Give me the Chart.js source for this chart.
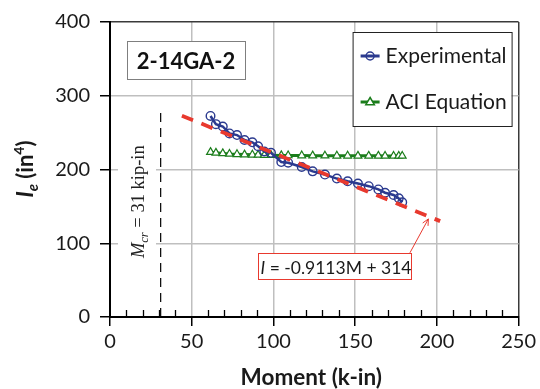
<!DOCTYPE html>
<html>
<head>
<meta charset="utf-8">
<script src="https://cdn.jsdelivr.net/npm/chart.js@4"></script>
<style>
  html, body { margin: 0; padding: 0; background: #fff; }
</style>
</head>
<body>
<canvas id="ieChart" width="540" height="389"></canvas>
<script>
// moments where Ie was measured / computed (k-in)
const moment = [61.5, 64.8, 69.0, 73.1, 77.7, 82.3, 87.1, 90.6, 94.4, 98.5, 104.8, 109.0,
                117.3, 124.0, 131.5, 138.8, 145.4, 151.7, 158.3, 164.2, 168.3, 173.5, 176.7, 178.8];
const experimental = [272.6, 261.5, 258.3, 248.9, 246.7, 240.0, 236.9, 231.5, 224.4, 222.6, 210.1, 209.2,
                      203.4, 197.5, 193.1, 187.7, 184.1, 181.0, 177.4, 173.0, 168.5, 165.4, 160.9, 155.5];
const aciEquation = [223.5, 222.6, 221.8, 221.1, 220.6, 220.2, 219.9, 219.7, 219.5, 219.3, 219.1, 219.0,
                     218.9, 218.8, 218.7, 218.6, 218.6, 218.5, 218.5, 218.5, 218.4, 218.4, 218.4, 218.4];
// linear fit I = -0.9113M + 314, end points
const fitMoment = [44, 202];
const fitI = [273, 130];
// cracking moment marker
const mcrMoment = [31, 31];
const mcrI = [0, 282];

const xTicks = [0, 50, 100, 150, 200, 250];
const yTicks = [0, 100, 200, 300, 400];

const blue = '#2b3a8f';
const green = '#1b7d1b';
const red = '#e8392e';

const pts = (xs, ys) => xs.map((v, i) => ({ x: v, y: ys[i] }));

// draws a run of text pieces [text, font, dy] starting at x
function runText(ctx, parts, x, y, center) {
  let total = 0;
  parts.forEach(p => { ctx.font = p[1]; total += ctx.measureText(p[0]).width; });
  let cx = center ? x - total / 2 : x;
  parts.forEach(p => {
    ctx.font = p[1];
    ctx.fillText(p[0], cx, y + (p[2] || 0));
    cx += ctx.measureText(p[0]).width;
  });
  return total;
}

function triangle(ctx, cx, cy, r) {
  ctx.beginPath();
  ctx.moveTo(cx, cy - r);
  ctx.lineTo(cx + r * 0.95, cy + r * 0.6);
  ctx.lineTo(cx - r * 0.95, cy + r * 0.6);
  ctx.closePath();
}

const mcrParts = [
  ['M', 'italic 18.5px "Liberation Serif"', 0],
  ['cr', 'italic 12.5px "Liberation Serif"', 4],
  [' = 31 kip-in', '18.5px "Liberation Serif"', 0]
];

const decor = {
  id: 'decor',
  beforeDatasetsDraw(chart) {
    const ctx = chart.ctx;
    const area = chart.chartArea;
    // white patch behind the Mcr label
    ctx.save();
    let w = 0;
    mcrParts.forEach(p => { ctx.font = p[1]; w += ctx.measureText(p[0]).width; });
    const cy = 201.7;
    ctx.fillStyle = '#fff';
    ctx.fillRect(area.left + 8, cy - w / 2 - 8, 38, w + 16);
    ctx.restore();
  },
  afterDraw(chart) {
    const ctx = chart.ctx;
    const area = chart.chartArea;
    const xs = chart.scales.x;
    const ys = chart.scales.y;
    ctx.save();

    // minor ticks every 10 along the bottom axis, pointing inwards
    ctx.strokeStyle = '#000';
    ctx.lineWidth = 1.3;
    for (let m = 10; m < 250; m += 10) {
      if (m % 50 === 0) continue;
      const px = Math.round(xs.getPixelForValue(m)) + 0.5;
      ctx.beginPath();
      ctx.moveTo(px, area.bottom);
      ctx.lineTo(px, area.bottom - 7);
      ctx.stroke();
    }

    // Mcr label, rotated
    ctx.fillStyle = '#222';
    ctx.textBaseline = 'alphabetic';
    ctx.save();
    ctx.translate(144, 201.7);
    ctx.rotate(-Math.PI / 2);
    runText(ctx, mcrParts, 0, 0, true);
    ctx.restore();

    // specimen box
    const bx = area.left + 17, by = area.top + 19;
    ctx.fillStyle = '#fff';
    ctx.fillRect(bx, by, 118, 38);
    ctx.strokeStyle = '#7f7f7f';
    ctx.lineWidth = 1;
    ctx.strokeRect(bx + 0.5, by + 0.5, 118, 38);
    ctx.fillStyle = '#111';
    ctx.textAlign = 'center';
    ctx.font = 'bold 22px Lato';
    ctx.fillText('2-14GA-2', bx + 59, by + 28);
    ctx.textAlign = 'left';

    // legend
    const lx = area.right - 166, ly = area.top + 10;
    ctx.fillStyle = '#fff';
    ctx.fillRect(lx, ly, 159, 94);
    ctx.strokeStyle = '#222';
    ctx.strokeRect(lx + 0.5, ly + 0.5, 159, 94);
    const rows = [
      { label: 'Experimental', color: blue, y: ly + 24, mark: 'circle' },
      { label: 'ACI Equation', color: green, y: ly + 70, mark: 'triangle' }
    ];
    rows.forEach(r => {
      ctx.strokeStyle = r.color;
      ctx.lineWidth = 3;
      ctx.beginPath();
      ctx.moveTo(lx + 8, r.y);
      ctx.lineTo(lx + 27, r.y);
      ctx.stroke();
      ctx.lineWidth = 1.5;
      if (r.mark === 'circle') {
        ctx.beginPath();
        ctx.arc(lx + 17.5, r.y, 4, 0, Math.PI * 2);
        ctx.stroke();
      } else {
        triangle(ctx, lx + 17.5, r.y, 4.5);
        ctx.fillStyle = '#fff';
        ctx.fill();
        ctx.stroke();
      }
      ctx.fillStyle = '#1a1a1a';
      ctx.font = '21px Lato';
      ctx.textBaseline = 'middle';
      ctx.fillText(r.label, lx + 33, r.y);
      ctx.textBaseline = 'alphabetic';
    });

    // equation box with arrow
    const ex = area.left + 148, ey = area.bottom - 64;
    ctx.fillStyle = '#fff';
    ctx.fillRect(ex, ey, 153, 26);
    ctx.strokeStyle = red;
    ctx.lineWidth = 1;
    ctx.strokeRect(ex + 0.5, ey + 0.5, 153, 26);
    ctx.fillStyle = '#1a1a1a';
    runText(ctx, [['I', 'italic 17.5px Lato'], [' = -0.9113M + 314', '17.5px Lato']], ex + 78, ey + 21, true);

    const tx = xs.getPixelForValue(183.5), ty = ys.getPixelForValue(87);
    const hx = xs.getPixelForValue(194.8), hy = ys.getPixelForValue(133);
    const ang = Math.atan2(hy - ty, hx - tx);
    ctx.strokeStyle = red;
    ctx.lineWidth = 1;
    ctx.beginPath();
    ctx.moveTo(tx, ty);
    ctx.lineTo(hx, hy);
    ctx.moveTo(hx - 7 * Math.cos(ang - 0.45), hy - 7 * Math.sin(ang - 0.45));
    ctx.lineTo(hx, hy);
    ctx.lineTo(hx - 7 * Math.cos(ang + 0.45), hy - 7 * Math.sin(ang + 0.45));
    ctx.stroke();

    // axis titles
    ctx.fillStyle = '#1a1a1a';
    ctx.textAlign = 'center';
    ctx.font = 'bold 22.5px Lato';
    ctx.fillText('Moment (k-in)', (area.left + area.right) / 2 - 3, chart.height - 4);
    ctx.textAlign = 'left';

    ctx.save();
    ctx.translate(33, 169);
    ctx.rotate(-Math.PI / 2);
    runText(ctx, [
      ['I', 'italic bold 22px Lato', 0],
      ['e', 'italic bold 15px Lato', 5],
      [' (in', 'bold 22px Lato', 0],
      ['4', 'bold 14px Lato', -9],
      [')', 'bold 22px Lato', 0]
    ], 0, 0, true);
    ctx.restore();

    ctx.restore();
  }
};

new Chart(document.getElementById('ieChart'), {
  type: 'line',
  data: {
    datasets: [
      {
        label: 'Fit',
        data: pts(fitMoment, fitI),
        borderColor: red,
        borderWidth: 3.8,
        borderDash: [12, 9],
        pointRadius: 0,
        order: 0
      },
      {
        label: 'Experimental',
        data: pts(moment, experimental),
        borderColor: blue,
        borderWidth: 2.5,
        pointStyle: 'circle',
        pointRadius: 4.3,
        pointBorderWidth: 1.4,
        pointBorderColor: blue,
        pointBackgroundColor: 'rgba(255,255,255,0)',
        order: 1
      },
      {
        label: 'ACI Equation',
        data: pts(moment, aciEquation),
        borderColor: green,
        borderWidth: 3,
        pointStyle: 'triangle',
        pointRadius: 4.5,
        pointBorderWidth: 1.2,
        pointBorderColor: green,
        pointBackgroundColor: '#fff',
        order: 2
      },
      {
        label: 'Mcr',
        data: pts(mcrMoment, mcrI),
        borderColor: '#000',
        borderWidth: 1.2,
        borderDash: [9, 6],
        pointRadius: 0,
        order: 3
      }
    ]
  },
  options: {
    responsive: false,
    animation: false,
    devicePixelRatio: 1,
    layout: { padding: { top: 18, right: 19, left: 0, bottom: 0 } },
    plugins: { legend: { display: false }, tooltip: { enabled: false } },
    scales: {
      x: {
        type: 'linear',
        min: 0,
        max: 250,
        afterBuildTicks: s => { s.ticks = xTicks.map(v => ({ value: v })); },
        afterFit: s => { s.height = 72; },
        ticks: { padding: 4, color: '#1a1a1a', font: { family: 'Lato', size: 20 } },
        grid: {
          color: c => c.tick.value === 250 ? '#3a3a3a' : (c.tick.value === 0 ? 'rgba(0,0,0,0)' : '#bfbfbf'),
          lineWidth: 1.5,
          tickColor: '#000',
          tickLength: 9,
          tickWidth: 1.5
        },
        border: { color: '#000', width: 2 }
      },
      y: {
        min: 0,
        max: 400,
        afterBuildTicks: s => { s.ticks = yTicks.map(v => ({ value: v })); },
        afterFit: s => { s.width = 110; },
        ticks: { padding: 10, color: '#1a1a1a', font: { family: 'Lato', size: 20 } },
        grid: {
          color: c => c.tick.value === 400 ? '#3a3a3a' : (c.tick.value === 0 ? 'rgba(0,0,0,0)' : '#bfbfbf'),
          lineWidth: 1.5,
          tickColor: '#000',
          tickLength: 10,
          tickWidth: 1.5
        },
        border: { color: '#000', width: 2 }
      }
    }
  },
  plugins: [decor]
});
</script>
</body>
</html>
